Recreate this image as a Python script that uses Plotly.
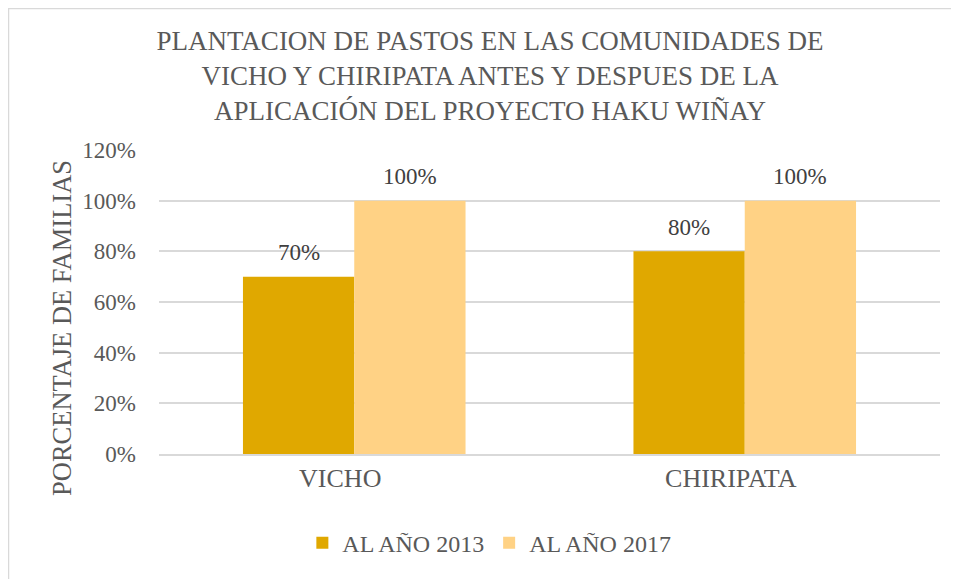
import plotly.graph_objects as go

categories = ["VICHO", "CHIRIPATA"]
series_names = ["AL AÑO 2013", "AL AÑO 2017"]
values_2013 = [0.70, 0.80]
values_2017 = [1.00, 1.00]
y_ticks = [0, 0.2, 0.4, 0.6, 0.8, 1.0, 1.2]
y_tick_labels = ["0%", "20%", "40%", "60%", "80%", "100%", "120%"]

font = "Liberation Serif, serif"
grey = "#595959"
bargap = 0.43

fig = go.Figure()
series = [(series_names[0], values_2013, "#E0A800"),
          (series_names[1], values_2017, "#FFD285")]
for name, vals, color in series:
    fig.add_trace(go.Bar(x=categories, y=vals, name=name,
                         marker=dict(color=color, line=dict(width=0))))

# value labels above each bar
bar_w = (1 - bargap) / len(series)
annotations = []
for k, (name, vals, color) in enumerate(series):
    off = (k - (len(series) - 1) / 2) * bar_w
    for i, v in enumerate(vals):
        annotations.append(dict(x=i + off, y=v, xref="x", yref="y", text=f"{v:.0%}",
                                showarrow=False, yanchor="middle", yshift=24,
                                font=dict(family=font, size=23, color="#404040")))

annotations.append(dict(text="PORCENTAJE DE FAMILIAS", xref="paper", yref="paper",
                        x=-0.1242, y=0.4145, textangle=-90, showarrow=False,
                        xanchor="center", yanchor="middle",
                        font=dict(family=font, size=26.5, color=grey)))

# page body has an 8px margin, so margins are shifted by 8px
fig.update_layout(
    width=959, height=579,
    paper_bgcolor="white", plot_bgcolor="white",
    margin=dict(l=151, r=27, t=142, b=133),
    barmode="group", bargap=bargap, bargroupgap=0,
    title=dict(
        text="PLANTACION DE PASTOS EN LAS COMUNIDADES DE<br>VICHO Y CHIRIPATA ANTES Y DESPUES DE LA<br>APLICACIÓN DEL PROYECTO HAKU WIÑAY",
        x=0.5026, xanchor="center", y=0.928, yanchor="top",
        font=dict(family=font, size=27, color=grey),
    ),
    font=dict(family=font, color=grey),
    legend=dict(orientation="h", x=0.423, xanchor="center", y=-0.293, yanchor="middle",
                font=dict(family=font, size=24, color=grey), traceorder="normal"),
    yaxis=dict(range=[0, 1.2], tickvals=y_ticks, ticktext=y_tick_labels,
               showgrid=True, gridcolor="#D9D9D9", gridwidth=1.5, zeroline=False,
               showline=False, tickfont=dict(family=font, size=23, color=grey),
               ticks="", ticklabelstandoff=22),
    xaxis=dict(showline=True, linecolor="#D9D9D9", linewidth=1.5,
               tickfont=dict(family=font, size=26, color=grey), ticks="",
               ticklabelshift=-14),
    annotations=annotations,
    shapes=[dict(type="path", xref="paper", yref="paper",
                 path="M -0.1927,-0.6 L -0.1927,1.4655 L 1.2,1.4655",
                 line=dict(color="#D9D9D9", width=1.5))],
)

fig.write_html("out.html")
